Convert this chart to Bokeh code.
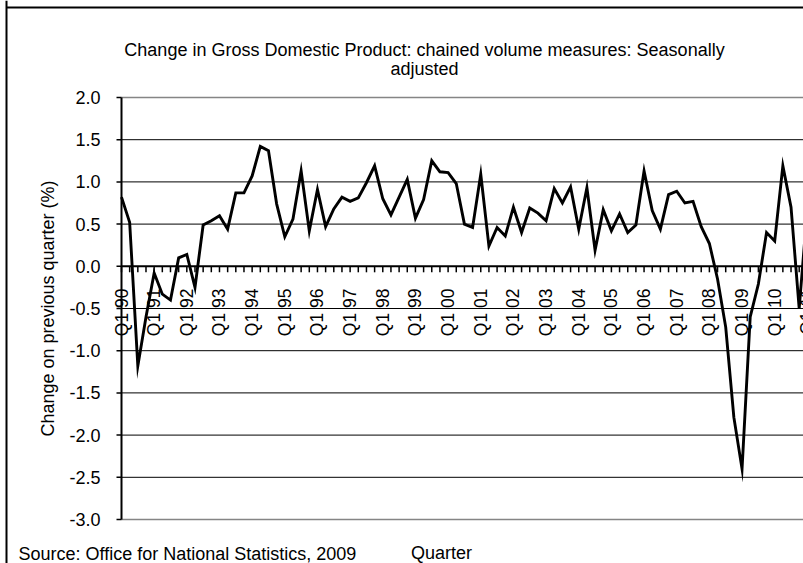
import math
from bokeh.plotting import figure
from bokeh.models import Range1d
from bokeh.core.properties import value
from bokeh.embed import file_html
from bokeh.resources import INLINE

# ---- data (quarterly % change, Q1 1990 .. Q1 2011) ----
quarter_index = list(range(85))
gdp_change = [
    0.82, 0.52, -1.18, -0.60,   # 1990
    -0.08, -0.33, -0.40, 0.10,  # 1991
    0.14, -0.25, 0.49, 0.54,    # 1992
    0.60, 0.44, 0.87, 0.87,     # 1993
    1.07, 1.42, 1.37, 0.74,     # 1994
    0.35, 0.56, 1.13, 0.42,     # 1995
    0.91, 0.47, 0.68, 0.82,     # 1996
    0.77, 0.81, 0.99, 1.19,     # 1997
    0.80, 0.61, 0.82, 1.03,     # 1998
    0.57, 0.79, 1.25, 1.12,     # 1999
    1.11, 0.98, 0.50, 0.46,     # 2000
    1.09, 0.24, 0.46, 0.36,     # 2001
    0.70, 0.40, 0.69, 0.63,     # 2002
    0.54, 0.92, 0.75, 0.94,     # 2003
    0.44, 0.93, 0.19, 0.67,     # 2004
    0.42, 0.62, 0.40, 0.49,     # 2005
    1.13, 0.66, 0.44, 0.85,     # 2006
    0.89, 0.75, 0.77, 0.47,     # 2007
    0.27, -0.15, -0.72, -1.79,  # 2008
    -2.40, -0.60, -0.21, 0.40,  # 2009
    0.30, 1.19, 0.70, -0.50,    # 2010
    0.70,                       # 2011
]
label_index = list(range(0, 85, 4))
label_text = ["Q1 %02d" % (y % 100) for y in range(1990, 2012)]
y_ticks = [-3.0, -2.5, -2.0, -1.5, -1.0, -0.5, 0.0, 0.5, 1.0, 1.5, 2.0]
grid_ticks = [-2.5, -2.0, -1.5, -1.0, -0.5, 0.5, 1.0, 1.5]
y_tick_text = ["%.1f" % t for t in y_ticks]

TITLE_1 = "Change in Gross Domestic Product: chained volume measures: Seasonally"
TITLE_2 = "adjusted"
Y_TITLE = "Change on previous quarter (%)"
X_TITLE = "Quarter"
SOURCE = "Source: Office for National Statistics, 2009"

FONT = value("Liberation Sans")
FS = value("18px")

# ---- layout (page pixels; the canvas covers the whole window) ----
W, H = 803, 563
AREA_L, AREA_T, AREA_B = 121, 97, 519
STEP = 8.165
Y_MIN, Y_MAX = -3.0, 2.0
PX_PER_UNIT = (AREA_B - AREA_T) / (Y_MAX - Y_MIN)


def dx(page_x):
    return (page_x - AREA_L) / STEP


def dy(page_y):
    return Y_MAX - (page_y - AREA_T) / PX_PER_UNIT


X_END = dx(W)

p = figure(width=W, height=H, output_backend="svg", toolbar_location=None,
           x_range=Range1d(dx(0), dx(W)), y_range=Range1d(dy(H), dy(0)),
           x_axis_location=None, y_axis_location=None,
           min_border=0, min_border_left=0, min_border_right=0,
           min_border_top=0, min_border_bottom=0,
           background_fill_color="white", border_fill_color="white")
p.outline_line_color = None
p.grid.visible = False

# outer cell border (left + top)
p.segment(x0=[dx(6), dx(6)], y0=[dy(0), dy(7)], x1=[dx(6), X_END], y1=[dy(H), dy(7)],
          line_color="black", line_width=2)

# horizontal gridlines
n = len(grid_ticks)
p.segment(x0=[0] * n, y0=grid_ticks, x1=[X_END] * n, y1=grid_ticks,
          line_color="black", line_width=1)
# plot-area border top/bottom (gray)
p.segment(x0=[0, 0], y0=[Y_MAX, Y_MIN], x1=[X_END, X_END], y1=[Y_MAX, Y_MIN],
          line_color="#858585", line_width=1.6)

# value axis
m = len(y_ticks)
p.segment(x0=[dx(116)] * m, y0=y_ticks, x1=[0] * m, y1=y_ticks,
          line_color="black", line_width=1.5)
p.segment(x0=[0], y0=[Y_MIN], x1=[0], y1=[Y_MAX], line_color="black", line_width=2)
p.text(x=[dx(100)] * m, y=y_ticks, text=y_tick_text, text_align="right",
       text_baseline="middle", text_font=FONT, text_font_size=FS, text_color="black")

# category axis through zero with quarter ticks
q = len(quarter_index)
tick_len = 6 / PX_PER_UNIT
p.segment(x0=quarter_index, y0=[0] * q, x1=quarter_index, y1=[-tick_len] * q,
          line_color="black", line_width=1.5)
p.segment(x0=[0], y0=[0], x1=[X_END], y1=[0], line_color="black", line_width=2)
k = len(label_index)
p.text(x=label_index, y=[dy(288)] * k, text=label_text, angle=math.pi / 2,
       text_align="right", text_baseline="middle", text_font=FONT,
       text_font_size=value("17.5px"), text_color="black")

# series
p.line(quarter_index, gdp_change, line_color="black", line_width=2.9, line_join="miter")

# titles
p.text(x=[dx(424), dx(424)], y=[dy(49), dy(68)], text=[TITLE_1, TITLE_2],
       text_align="center", text_baseline="alphabetic", text_font=FONT,
       text_font_size=FS, text_color="black")
p.text(x=[dx(47.5)], y=[dy(308)], text=[Y_TITLE], angle=math.pi / 2,
       text_align="center", text_baseline="middle", text_font=FONT,
       text_font_size=FS, text_color="black")
p.text(x=[dx(441)], y=[dy(552)], text=[X_TITLE], text_align="center",
       text_baseline="alphabetic", text_font=FONT, text_font_size=FS, text_color="black")
p.text(x=[dx(18)], y=[dy(553)], text=[SOURCE], text_align="left",
       text_baseline="alphabetic", text_font=FONT, text_font_size=FS, text_color="black")

open("out.html", "w").write(file_html(p, INLINE))
